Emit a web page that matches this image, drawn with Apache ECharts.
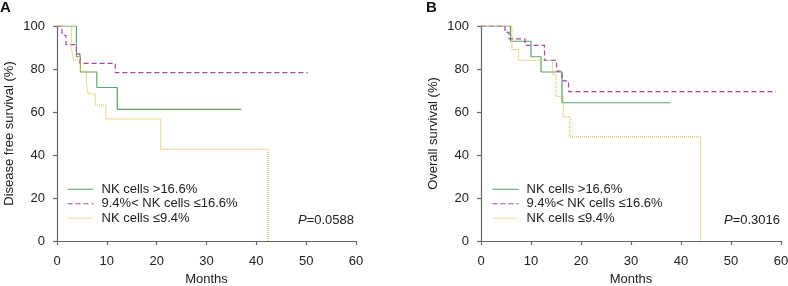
<!DOCTYPE html>
<html>
<head>
<meta charset="utf-8">
<script src="https://cdn.jsdelivr.net/npm/echarts@6/dist/echarts.min.js"></script>
<style>
  html, body { margin: 0; padding: 0; background: #fff; }
  #container { width: 788px; height: 286px; }
</style>
</head>
<body>
<div id="container"></div>
<script>
// Kaplan-Meier curves (months / survival %)
const seriesNames = ["NK cells >16.6%", "9.4%< NK cells \u226416.6%", "NK cells \u22649.4%"];
const monthTicks = [0, 10, 20, 30, 40, 50, 60];
const survTicks = [0, 20, 40, 60, 80, 100];

// panel A: disease free survival
const dfsHighT = [0, 3.9, 4.7, 8, 12.1, 37];
const dfsHighS = [100, 85.7, 78.6, 71.4, 61.2, 61.2];
const dfsMidT = [0, 1, 1.8, 3.9, 4.6, 11.7, 50.3];
const dfsMidS = [100, 95.7, 91.3, 87, 82.6, 78.3, 78.3];
const dfsLowT = [0, 2.9, 3.3, 4.7, 5.9, 6.2, 7.7, 9.8, 20.8, 42.4];
const dfsLowS = [100, 89.5, 84.2, 78.9, 73.7, 68.4, 63.2, 56.8, 42.6, 0];

// panel B: overall survival
const osHighT = [0, 5.9, 10, 12, 16.2, 37.9];
const osHighS = [100, 92.9, 85.7, 78.6, 64.3, 64.3];
const osMidT = [0, 4.8, 5.6, 8.8, 12.7, 15.1, 16.2, 17.5, 59];
const osMidS = [100, 97, 94, 91, 84, 79, 74.5, 69.5, 69.5];
const osLowT = [0, 6.2, 7.5, 14.3, 15, 16.5, 17.8, 43.9];
const osLowS = [100, 89, 84, 77.5, 67.2, 57.6, 48.4, 0];

const pValues = ["0.0588", "0.3016"];

const colors = ["#5ba466", "#a8479d", "#e8b94c"];
const lineTypes = ["solid", [5, 3], [1, 1]];
const fontFam = "'Liberation Sans', Arial, sans-serif";

function zip(t, s) {
  let out = [];
  for (let i = 0; i < t.length; i++) out.push([t[i], s[i]]);
  return out;
}

function kmSeries(idx, t, s, g) {
  return {
    name: seriesNames[idx],
    type: "line",
    step: "end",
    xAxisIndex: g,
    yAxisIndex: g,
    symbol: "none",
    silent: true,
    animation: false,
    lineStyle: { color: colors[idx], width: 1.2, type: lineTypes[idx] },
    itemStyle: { color: colors[idx] },
    data: zip(t, s)
  };
}

function xAxisFor(g) {
  return {
    gridIndex: g,
    type: "value",
    min: monthTicks[0],
    max: monthTicks[monthTicks.length - 1],
    interval: 10,
    offset: 5,
    name: "Months",
    nameLocation: "middle",
    nameGap: 27,
    nameTextStyle: { color: "#222", fontSize: 13, fontFamily: fontFam },
    axisLine: { lineStyle: { color: "#666", width: 1.2 } },
    axisTick: { length: 4, lineStyle: { color: "#666", width: 1.2 } },
    axisLabel: { color: "#222", fontSize: 13, margin: 9, fontFamily: fontFam },
    splitLine: { show: false }
  };
}

function yAxisFor(g, name) {
  return {
    gridIndex: g,
    type: "value",
    min: survTicks[0],
    max: survTicks[survTicks.length - 1],
    interval: 20,
    offset: 5,
    name: name,
    nameLocation: "middle",
    nameGap: 36,
    nameTextStyle: { color: "#222", fontSize: 13, fontFamily: fontFam },
    axisLine: { show: true, lineStyle: { color: "#666", width: 1.2 } },
    axisTick: { show: true, length: 4, lineStyle: { color: "#666", width: 1.2 } },
    axisLabel: { color: "#222", fontSize: 13, margin: 7, fontFamily: fontFam },
    splitLine: { show: false }
  };
}

function legendFor(left) {
  return {
    orient: "vertical",
    left: left,
    top: 182,
    padding: 0,
    itemWidth: 26,
    itemHeight: 10,
    itemGap: 0,
    selectedMode: false,
    itemStyle: { opacity: 0 },
    lineStyle: { width: 1 },
    data: seriesNames,
    textStyle: { color: "#222", fontSize: 13, lineHeight: 14.5, fontFamily: fontFam, padding: [0, 0, 0, 3] }
  };
}

const myChart = echarts.init(document.getElementById("container"));
const option = {
  animation: false,
  grid: [
    { left: 57, right: 432, top: 26, bottom: 45, containLabel: false, outerBoundsMode: "none" },
    { left: 481, right: 7, top: 26, bottom: 45, containLabel: false, outerBoundsMode: "none" }
  ],
  xAxis: [xAxisFor(0), xAxisFor(1)],
  yAxis: [yAxisFor(0, "Disease free survival (%)"), yAxisFor(1, "Overall survival (%)")],
  legend: [legendFor(67), legendFor(492)],
  series: [
    kmSeries(0, dfsHighT, dfsHighS, 0),
    kmSeries(1, dfsMidT, dfsMidS, 0),
    kmSeries(2, dfsLowT, dfsLowS, 0),
    kmSeries(0, osHighT, osHighS, 1),
    kmSeries(1, osMidT, osMidS, 1),
    kmSeries(2, osLowT, osLowS, 1)
  ],
  graphic: [
    { type: "text", left: 0, top: 0, style: { text: "A", font: "bold 15px " + fontFam, fill: "#111" } },
    { type: "text", left: 426, top: 0, style: { text: "B", font: "bold 15px " + fontFam, fill: "#111" } },
    {
      type: "text", x: 354, y: 220,
      style: {
        text: "{i|P}=" + pValues[0], align: "right", verticalAlign: "middle",
        font: "13px " + fontFam, fill: "#222",
        rich: { i: { fontStyle: "italic", fontSize: 13, fontFamily: fontFam, fill: "#222" } }
      }
    },
    {
      type: "text", x: 780, y: 220,
      style: {
        text: "{i|P}=" + pValues[1], align: "right", verticalAlign: "middle",
        font: "13px " + fontFam, fill: "#222",
        rich: { i: { fontStyle: "italic", fontSize: 13, fontFamily: fontFam, fill: "#222" } }
      }
    }
  ]
};
myChart.setOption(option);
</script>
</body>
</html>
